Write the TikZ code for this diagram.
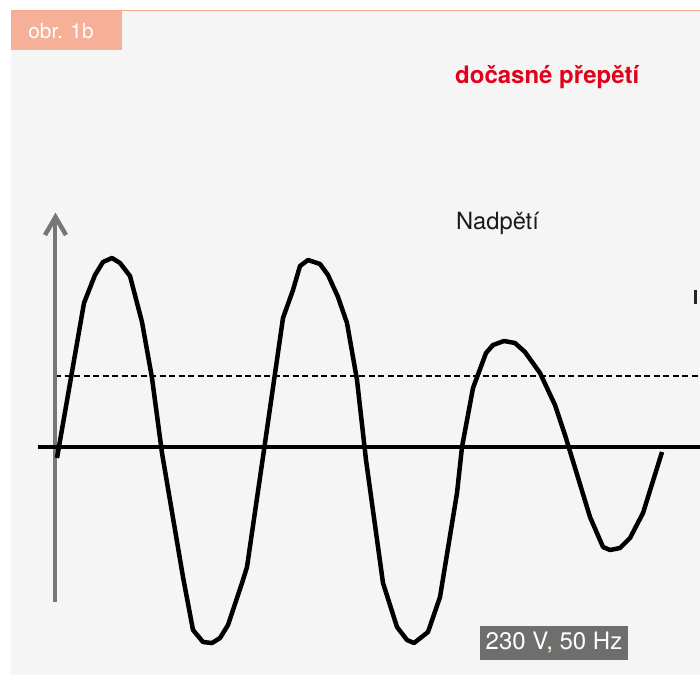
\documentclass[tikz,border=0pt]{standalone}
\usepackage{fontspec}
\setmainfont{TeX Gyre Heros}
\definecolor{bg}{HTML}{F5F5F5}
\definecolor{salmon}{HTML}{F7B098}
\definecolor{topline}{HTML}{F9A98C}
\definecolor{axisgray}{HTML}{777777}
\definecolor{tagred}{HTML}{E3001B}
\definecolor{boxgray}{HTML}{6E6E6C}
\tikzset{
  wave/.style={line width=4.5pt, line join=round, line cap=butt},
  label/.style={inner sep=0pt, anchor=base west, font=\fontsize{23.7}{26}\selectfont},
}
\begin{document}
\begin{tikzpicture}[x=1pt,y=-1pt]
\useasboundingbox (0,0) rectangle (700,675);
% background
\fill[bg] (11,10) rectangle (700,675);
\draw[topline, line width=1.5pt] (11,10.5) -- (700,10.5);
% tag
\fill[salmon] (11,11) rectangle (122,50);
\node[inner sep=0pt, text=white, font=\fontsize{20.8}{23}\selectfont] (tag) at (61,31) {obr. 1b};
% titles
\node[label, text=tagred, font=\bfseries\fontsize{24}{26}\selectfont] (title) at (455,83) {dočasné přepětí};
\node[label, text=black!90] (nad) at (456,229) {Nadpětí};
% cut-off glyph at right edge
\fill[black!85] (694,290) rectangle (697,304);
% dashed level
\draw[line width=1.4pt, dash pattern=on 6pt off 3.5pt] (55,376) -- (700,376);
% vertical axis
\draw[axisgray, line width=4.5pt] (55,602) -- (55,218);
\draw[axisgray, line width=4.5pt, line join=miter] (45,235) -- (55.5,217) -- (66,235);
% horizontal axis
\draw[black, line width=4.7pt] (38,447) -- (700,447);
% waveform
\draw[wave] (57,458) -- (84,303) -- (95,275) -- (103,262) -- (112,258) -- (120,263) -- (130,276)
  -- (142,322) -- (152,378) -- (162,453) -- (183,577) -- (193,630) -- (203,642) -- (212,643)
  -- (220,638) -- (228,625) -- (242,583) -- (247,567) -- (265,443) -- (283,318) -- (293,290)
  -- (300,266) -- (308,260) -- (320,264) -- (328,275) -- (338,297) -- (347,323) -- (357,380)
  -- (366,460) -- (383,583) -- (397,627) -- (407,640) -- (414,643) -- (428,632) -- (440,597)
  -- (457,493) -- (462,447) -- (473,388) -- (486,353) -- (493,345) -- (504,341) -- (515,343)
  -- (525,352) -- (540,373) -- (555,405) -- (565,435) -- (590,517) -- (603,547) -- (610,550)
  -- (620,548) -- (630,538) -- (643,513) -- (662,452);
% voltage box
\fill[boxgray] (480,626) rectangle (628,660);
\node[inner sep=0pt, text=white, font=\fontsize{24}{26}\selectfont] (volt) at (554,643) {230 V, 50 Hz};
\end{tikzpicture}
\end{document}
